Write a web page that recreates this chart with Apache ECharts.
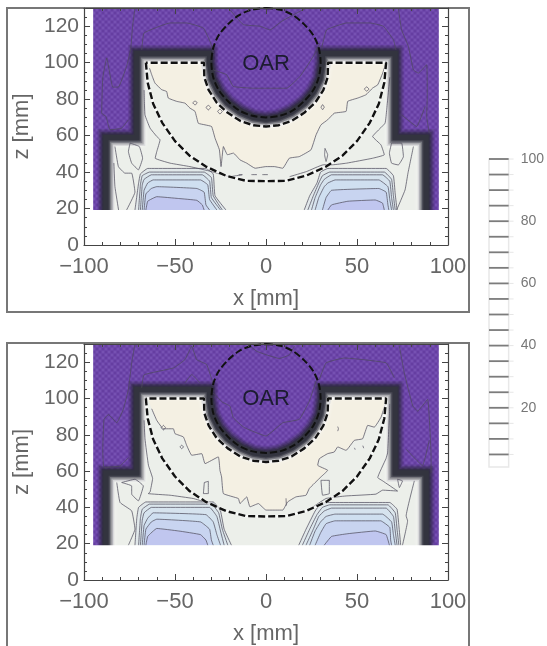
<!DOCTYPE html>
<html><head><meta charset="utf-8">
<style>html,body{margin:0;padding:0;background:#fff}#c{width:547px;height:646px;filter:blur(0.45px)}</style>
<script src="https://cdn.jsdelivr.net/npm/echarts@6/dist/echarts.min.js"></script>
</head><body><div id="c"></div>
<script>
// ---- shared geometry, [x mm, z mm]
const doseCorners = [[-95,18],[-95,130],[95,130],[95,18]];
const maskBelow = [[-100,0],[-100,19.2],[100,19.2],[100,0]];
const maskLeft = [[-100,0],[-100,130],[-95,130],[-95,0]];
const maskRight = [[95,0],[95,130],[100,130],[100,0]];
const oarCircle = [[0,130],[8,129],[15,126],[21,121],[26,115],[29,108],[30,100],[29,92],[26,85],[21,79],[15,74],[8,71],[0,70],[-8,71],[-15,74],[-21,79],[-26,85],[-29,92],[-30,100],[-29,108],[-26,115],[-21,121],[-15,126],[-8,129],[0,130]];
const ptvOutline = [[-66,100],[-65,89],[-62,77.5],[-57,67],[-50,57],[-42,49],[-33,43],[-22,38],[-11,35.2],[0,35],[11,35.2],[22,38],[33,43],[42,49],[50,57],[57,67],[62,77.5],[65,89],[66,100],[34,100],[33.9,92],[31.5,85],[27,78],[21,72.5],[14,68],[7,65.7],[0,65],[-7,65.7],[-14,68],[-21,72.5],[-27,78],[-31.5,85],[-33.9,92],[-34,100],[-66,100]];
const fieldEdge = [[-88,18],[-88,59],[-71,59],[-71,105],[-31,105],[-31,100],[-29.5,91],[-26,84],[-21,78],[-14,73],[-7,70],[0,69],[7,70],[14,73],[21,78],[26,84],[29.5,91],[31,100],[31,105],[71,105],[71,59],[88,59],[88,18]];
const creamClosure = [[66,100],[34,100],[33,90],[27,80],[15,72],[0,68],[-15,72],[-27,80],[-33,90],[-34,100],[-65,100]];

// ---- upper panel contours
const topCream = [[-64,97],[-62.8,93.4],[-61,88.8],[-57.3,85.2],[-54.6,84.2],[-53.7,80.6],[-49.1,78.8],[-44.5,77.8],[-41.8,75.1],[-39,73.3],[-37.2,66.8],[-33.5,65.9],[-29.9,65],[-28,58.6],[-25.6,52.2],[-24.7,43],[-23.4,54],[-21.2,49.5],[-17.9,50.4],[-14.3,46.7],[-10.6,44.9],[-6,42.1],[0,43],[4.6,43],[9.2,42.1],[12.8,47.6],[18.3,48.5],[24.7,52.2],[27.5,60.4],[30.2,65.9],[33.9,68.7],[37.5,72.3],[44,73.3],[44.9,78.8],[50.4,80.6],[54.9,82.4],[58.6,86.1],[61.4,87.9],[64.1,94.3],[65.6,98.9]];
const topOuterL = [[-67,85],[-66.5,71.4],[-63.7,64.1],[-60,59.5],[-58.2,57.7],[-60,51.3],[-60.9,47.6],[-52.7,44.9],[-41.8,43],[-29.9,40.3],[-20,37.5],[-13,38.5]];
const topOuterR = [[13,37.5],[22.3,40.3],[31.5,44],[36.6,44],[44.3,44.9],[58.6,47.6],[65,49.5],[63.2,54.9],[58.6,59.5],[65.4,66.8],[66.3,74.2],[68,92]];
const topBlueL = [
 [[-72,19.2],[-70,34],[-69,39],[-65,42],[-33,42],[-29,39],[-28,27],[-22,19.2]],
 [[-70,19.2],[-69,33],[-68,38],[-64,40],[-34,40],[-30,37],[-29,27],[-24,19.2]],
 [[-69,19.2],[-68,33],[-67,36],[-63,38.5],[-35,38.5],[-31,35],[-30,26],[-25,19.2]],
 [[-68,19.2],[-67,30],[-65,34],[-62,35.7],[-36,35.7],[-32,33],[-31,25],[-27,19.2]],
 [[-67,19.2],[-66,28],[-63,31],[-60,32],[-38,31],[-34,29],[-33,22],[-31,19.2]],
 [[-66,19.2],[-65,24],[-60,26.5],[-48,25.5],[-38,24.5],[-35,22],[-34,19.2]]];
const topBlueR = [
 [[21,19.2],[24,27],[28,34],[30,40],[34,42],[66,42],[70,38],[71,28],[72,19.2]],
 [[23,19.2],[26,27],[29,34],[31,38],[35,40],[65,40],[69,36],[70,27],[71,19.2]],
 [[25,19.2],[27,26],[30,33],[32,36],[36,38.5],[64,38.5],[68,35],[69,26],[70,19.2]],
 [[27,19.2],[29,26],[32,32],[34,34],[38,35.7],[62,35.7],[67,32],[68,25],[69,19.2]],
 [[31,19.2],[33,26],[36,30],[62,31],[66,29],[67,22],[67.5,19.2]],
 [[34,19.2],[36,22],[45,24],[60,24.7],[64,23],[65,19.2]]];
const topLines = [
 [[-72,130],[-73.3,120],[-74.4,107],[-76.6,98],[-81.1,86.6],[-84.2,86.6],[-87.5,102.6],[-89.7,91.6],[-90.3,72.3],[-87.9,70.5],[-85.7,63.2],[-79.3,64.1],[-75.6,68.7]],
 [[-68.3,107],[-67,116.3],[-52.7,121.8],[-43.6,121.8],[-34.4,119],[-30.4,110.8],[-28.9,105.3]],
 [[-19.8,129],[-12.5,120.9],[-3.3,120],[2.2,118],[8.6,122.7],[18.7,128.2],[22,130]],
 [[-28.9,96],[-21.6,93.4],[-18,87],[-7,86],[0.4,86],[11.4,86],[18.7,92.5],[26,103.5],[29.7,110.8]],
 [[30.6,108],[33.3,118],[44.3,121.8],[57.1,121.8],[64.5,120],[70,112.6],[71.4,107]],
 [[72.7,130],[74.5,118],[78.2,109],[81,96],[83.7,94.3],[88.3,98.9],[88.6,81.5],[88.3,70.5],[89.7,61.4]],
 [[74.5,71.4],[82.8,65],[87.4,76]],
 [[-74.7,55.9],[-69.6,54],[-67.8,47.6],[-70.1,41.2],[-73.8,44.9],[-75.6,51.3],[-74.7,55.9]],
 [[-83,54],[-81.1,43],[-77.5,39.4],[-73.8,39.4],[-72,29],[-76.6,19.2]],
 [[-81,19.2],[-83,32],[-83.6,45]],
 [[69,55.9],[74.5,55.9],[75.5,48.5],[72.7,43.9],[69,44.9],[67.8,50.4],[69,55.9]],
 [[81,54],[78,39.4],[76.4,30.2],[71.8,19.2]],
 [[-40.3,78],[-39,79],[-37.7,78],[-39,76.8],[-40.3,78]],
 [[-33,75.5],[-31.7,76.6],[-30.4,75.5],[-31.7,74],[-33,75.5]],
 [[-26.6,73.3],[-25.3,74.6],[-24,73.3],[-25.3,71.8],[-26.6,73.3]],
 [[30.2,75.6],[31.1,77],[32,75.6],[31.1,74.2],[30.2,75.6]],
 [[32.4,53],[33.9,49.5],[33,45.8],[32.2,49.5],[32.4,53]],
 [[54,85.5],[55.3,86.8],[56.6,85.5],[55.3,84.4],[54,85.5]],
 [[-15,38.6],[-13,38.6]],[[-8,38.6],[-5,38.6]],[[-2,38.6],[1,38.6]]];

// ---- lower panel contours
const botCream = [[-62.8,94.3],[-60,87.9],[-56.4,83.3],[-50.9,83.3],[-50,80.6],[-45.4,78.8],[-43.6,74.2],[-40.8,68.7],[-35.3,69.6],[-33.5,64.1],[-26.2,67.8],[-25.3,60.4],[-24.4,56.8],[-23.4,47.6],[-15.2,44.9],[-14.3,42.1],[-10.6,45.8],[-8.8,40.3],[-4.2,42.1],[0,38.5],[5.5,38.5],[9.2,38.5],[11.9,43],[16.5,45.8],[22,46.7],[23.8,50.4],[30.2,56.8],[33.9,60.4],[28.4,63.2],[29.3,66.8],[33.9,69.6],[37.5,70.5],[39.4,73.3],[44,71.4],[48.5,76.9],[53.1,77.8],[55.9,85.2],[59.5,84.2],[63.2,89.7],[65.6,97]];
const botOuterL = [[-67,88],[-66.5,77.8],[-64.6,63.2],[-62.3,55.9],[-63.7,48.5],[-64.7,47.6],[-52.7,46.7],[-40,44.9],[-33.5,43],[-28.9,41.8],[-24,39]];
const botOuterR = [[24,39],[33,44.9],[44,46.3],[60.4,47.3],[64.1,49.5],[72.3,49],[64.1,54.6],[61.4,56.4],[65.9,66.8],[66.8,70],[67.8,90.3],[68,97]];
const botBlueL = [
 [[-72,19.2],[-71,34],[-70,40],[-66,43],[-29,43],[-25,38],[-23,28],[-19,19.2]],
 [[-70,19.2],[-69,34],[-68,39],[-64,41.8],[-30,41.8],[-26,37],[-24,28],[-21,19.2]],
 [[-69,19.2],[-68,33],[-67,37],[-63,40],[-31,40],[-27,35],[-25,27],[-23,19.2]],
 [[-68,19.2],[-67,30],[-65,34],[-62,37],[-33,36],[-29,32],[-27,25],[-25,19.2]],
 [[-67,19.2],[-66,28],[-63,32],[-60,33.5],[-36,32],[-31,28],[-30,22],[-29,19.2]],
 [[-66,19.2],[-65,24],[-60,28.4],[-48,27],[-36,25],[-33,22],[-32,19.2]]];
const botBlueR = [
 [[18,19.2],[22,28],[27,38],[30,42],[34,42.7],[68,42.7],[72,39],[73,30],[74,19.2]],
 [[20,19.2],[24,28],[28,36],[31,40],[35,41.4],[67,41.4],[71,37],[72,28],[73,19.2]],
 [[22,19.2],[26,28],[29,35],[32,38],[36,39.6],[66,39.6],[70,35],[71,27],[72,19.2]],
 [[24,19.2],[27,27],[30,32],[33,35],[38,36.3],[64,36.3],[69,32],[70,25],[71,19.2]],
 [[27,19.2],[30,26],[33,31],[38,32.6],[63,32.6],[68,29],[68.5,22],[69,19.2]],
 [[32,19.2],[36,24],[45,25.5],[60,27],[66,25],[67.8,19.2]]];
const botLines = [
 [[-72,130],[-73.8,119.6],[-75.6,105],[-78.4,94],[-82,86.6],[-86.6,91.2],[-89,88.5],[-89.7,72],[-89,62],[-80.2,62.8],[-75.6,67.4]],
 [[-68.3,105.9],[-67,113],[-50.9,116.8],[-44.5,121.4],[-40.8,128.8],[-38.1,121.4],[-32.6,118.7],[-28.9,107.7]],
 [[-44.5,108.6],[-40.8,113.2],[-36.3,108.6]],
 [[-9.7,129.7],[-5.1,126],[0.4,124],[7.3,122],[12.8,124],[15.6,128.8]],
 [[-28.9,103],[-24,98],[-19.8,95.8],[-18,89.4],[-12,84],[0,79.3],[9.2,86.6],[18.3,88.5],[23.8,98.5],[27.5,109.5]],
 [[29.3,110.4],[33,119.6],[43,122.3],[66,119.6],[70.5,111.4]],
 [[73.3,128.8],[76,114],[80.6,96],[83.3,93],[88.8,99.5],[90.7,68],[90.7,59]],
 [[77,72],[86,63],[89.7,77]],
 [[-79.3,53.7],[-72,55.5],[-67.4,51.8],[-70.1,43.6],[-73.8,47.3],[-73.8,51.8],[-79.3,53.7]],
 [[-82,53.7],[-80.2,42.7],[-73.8,38.1],[-72,28],[-75.6,19.2]],
 [[-33.9,53.7],[-31.7,54.4],[-31.7,47.6],[-34.4,47.6],[-33.9,53.7]],
 [[30.2,54.9],[34.8,54.9],[34.8,47.6],[31.1,46.7],[30.2,54.9]],
 [[72.3,55.5],[75,54.6],[73.3,50.9],[72.3,55.5]],
 [[81.5,54.6],[77,35.3],[77.8,32.6],[75,19.2]],
 [[-47.3,73.3],[-46.3,74.3],[-45.3,73.3],[-46.3,72.3],[-47.3,73.3]],
 [[-57.6,83.9],[-56.4,85.2],[-55.2,83.9],[-56.4,82.6],[-57.6,83.9]],
 [[39.4,84.5],[39.8,83.3],[39.4,82]],[[48.6,72.8],[49,71.8]],[[53.2,74],[53.7,72.6]],
 [[11,45],[11.2,41]]];

// ---- colour key
const keyLevels = [100,95,90,85,80,75,70,65,60,55,50,45,40,35,30,25,20,15,10,5];
const keyTicks = [20,40,60,80,100];
const keyBox = [[0,1],[0,100],[1,100],[1,1]];

const blueFills = ['#e1e8ea','#dbe6ec','#d6e3ee','#cfdff0','#c8d4f0','#c0c6ef'];
const tick = '#444', txt = '#666', fnt = 'Liberation Sans';
const outsideField = doseCorners.concat(fieldEdge.slice().reverse());

function makeDots(){
  const c = document.createElement('canvas'); c.width = 6; c.height = 6;
  const g = c.getContext('2d');
  g.fillStyle = 'rgba(60,25,120,0.16)';
  g.fillRect(0,0,2,2); g.fillRect(3,3,2,2);
  g.fillStyle = 'rgba(190,165,235,0.12)';
  g.fillRect(3,0,2,2); g.fillRect(0,3,2,2);
  return c;
}
const dots = makeDots();

function poly(gi, pts, style, z){
  return {type:'custom', xAxisIndex:gi*2, yAxisIndex:gi*2, coordinateSystem:'cartesian2d', silent:true, clip:true, z:z,
    data:pts, encode:{x:0,y:1},
    renderItem:(p,api)=> p.dataIndex!==0 ? null : {type:'polygon', shape:{points:pts.map(q=>api.coord(q))}, style:style}};
}
function stroke(gi, pts, style, z){
  return {type:'custom', xAxisIndex:gi*2, yAxisIndex:gi*2, coordinateSystem:'cartesian2d', silent:true, clip:true, z:z,
    data:pts, encode:{x:0,y:1},
    renderItem:(p,api)=> p.dataIndex!==0 ? null : {type:'polyline', shape:{points:pts.map(q=>api.coord(q))}, style:Object.assign({fill:'none',lineJoin:'miter'},style)}};
}
function contour(gi, pts, z){
  return {type:'line', xAxisIndex:gi*2, yAxisIndex:gi*2, data:pts, showSymbol:false, silent:true, z:z, smooth:0.1,
    lineStyle:{color:'rgba(78,75,92,0.72)', width:1}};
}
function panelSeries(gi, cream, outerL, outerR, blueL, blueR, lines){
  const s = [];
  s.push(poly(gi, fieldEdge, {fill:'#ecefea'}, 2));
  s.push(poly(gi, cream.concat(creamClosure), {fill:'#f4f0e3'}, 2));
  [blueL, blueR].forEach(b=>b.forEach((c,i)=>s.push(poly(gi, c, {fill:blueFills[i]}, 2))));
  s.push(stroke(gi, fieldEdge, {stroke:'rgba(255,255,255,0.85)', lineWidth:17, shadowBlur:4, shadowColor:'rgba(255,255,255,0.8)'}, 3));
  s.push(poly(gi, outsideField, {fill:'#6d46aa'}, 3));
  s.push(poly(gi, outsideField, {fill:{image:dots, repeat:'repeat'}}, 3));
  [[17,0.14],[14,0.2],[11,0.3],[8,0.5]].forEach(h=>
    s.push(stroke(gi, fieldEdge, {stroke:'rgba(42,42,56,'+h[1]+')', lineWidth:h[0], shadowBlur:3, shadowColor:'rgba(42,42,56,'+h[1]+')'}, 3)));
  s.push(stroke(gi, fieldEdge, {stroke:'#33343f', lineWidth:5, shadowBlur:2, shadowColor:'#33343f'}, 3));
  s.push(poly(gi, maskBelow, {fill:'#fff'}, 4));
  s.push(poly(gi, maskLeft, {fill:'#fff'}, 4));
  s.push(poly(gi, maskRight, {fill:'#fff'}, 4));
  const all = [cream, outerL, outerR].concat(blueL, blueR, lines);
  all.forEach(l=>s.push(contour(gi, l, 5)));
  s.push({type:'line', xAxisIndex:gi*2, yAxisIndex:gi*2, data:oarCircle, showSymbol:false, silent:true, z:6, smooth:0.3,
    lineStyle:{color:'#111', width:2, type:[7,3]}});
  s.push({type:'line', xAxisIndex:gi*2, yAxisIndex:gi*2, data:ptvOutline, showSymbol:false, silent:true, z:6,
    lineStyle:{color:'#fff', width:3, opacity:0.6}});
  s.push({type:'line', xAxisIndex:gi*2, yAxisIndex:gi*2, data:ptvOutline, showSymbol:false, silent:true, z:6,
    lineStyle:{color:'#111', width:2.4, type:[7,3]}});
  s.push({type:'custom', xAxisIndex:gi*2, yAxisIndex:gi*2, silent:true, z:7, data:[[0,99.5]], encode:{x:0,y:1},
    renderItem:(p,api)=>{const c=api.coord([0,99.5]);return {type:'text',style:{text:'OAR',x:c[0],y:c[1],align:'center',verticalAlign:'middle',font:'22px "Liberation Sans"',fill:'#1c1c30'}};}});
  return s;
}

function xAxes(gi, name){
  const base = {type:'value', gridIndex:gi, min:-100, max:100, interval:50, splitLine:{show:false},
    axisLine:{show:true,onZero:false,lineStyle:{color:tick,width:1.2}},
    axisTick:{show:true,inside:true,length:6,lineStyle:{color:tick}},
    minorTick:{show:true,splitNumber:5,length:3,lineStyle:{color:tick}}, z:10};
  return [Object.assign({}, base, {position:'bottom', name:name, nameLocation:'middle', nameGap:43,
      nameTextStyle:{color:txt,fontSize:22,fontFamily:fnt},
      axisLabel:{color:txt,fontSize:22,fontFamily:fnt,margin:11,hideOverlap:false,showMinLabel:true,showMaxLabel:true,formatter:v=>String(v).replace('-','\u2212')}}),
    Object.assign({}, base, {position:'top', axisLabel:{show:false}})];
}
function yAxes(gi, name){
  const base = {type:'value', gridIndex:gi, min:0, max:130, interval:20, splitLine:{show:false},
    axisLine:{show:true,onZero:false,lineStyle:{color:tick,width:1.2}},
    axisTick:{show:true,inside:true,length:6,lineStyle:{color:tick}},
    minorTick:{show:true,splitNumber:4,length:3,lineStyle:{color:tick}}, z:10};
  return [Object.assign({}, base, {position:'left', name:name, nameLocation:'middle', nameGap:47, nameRotate:90,
      nameTextStyle:{color:txt,fontSize:22,fontFamily:fnt},
      axisLabel:{color:txt,fontSize:21,fontFamily:fnt,margin:5,showMinLabel:true,showMaxLabel:false}}),
    Object.assign({}, base, {position:'right', axisLabel:{show:false}})];
}

const series = [].concat(
  panelSeries(0, topCream, topOuterL, topOuterR, topBlueL, topBlueR, topLines),
  panelSeries(1, botCream, botOuterL, botOuterR, botBlueL, botBlueR, botLines));

// colour key
series.push({type:'custom', xAxisIndex:4, yAxisIndex:4, silent:true, z:2, data:keyBox, encode:{x:0,y:1},
  renderItem:(p,api)=> p.dataIndex!==0?null:{type:'polygon',shape:{points:keyBox.map(q=>api.coord(q))},style:{fill:'#fff',stroke:'#e8e8e8',lineWidth:1.5}}});
series.push({type:'custom', xAxisIndex:4, yAxisIndex:4, silent:true, z:3, data:keyLevels.map(v=>[0,v]), encode:{x:0,y:1},
  renderItem:(p,api)=>{const v=api.value(1),a=api.coord([0,v]),b=api.coord([1,v]),m=api.coord([1.25,v]);
    return {type:'group',children:[
      {type:'line',shape:{x1:b[0],y1:b[1],x2:m[0],y2:m[1]},style:{stroke:'#e6e6e6',lineWidth:1}},
      {type:'line',shape:{x1:a[0],y1:a[1],x2:b[0],y2:b[1]},style:{stroke:'#7c7c7c',lineWidth:1.8}}]};}});

const option = {
  animation:false, backgroundColor:'#fff',
  grid:[{left:84,top:8,width:364,height:237},{left:84,top:344,width:364,height:237},{left:489,top:159,width:21,height:311}],
  xAxis:[].concat(xAxes(0,'x [mm]'),xAxes(1,'x [mm]'),[{type:'value',gridIndex:2,min:0,max:1,show:false}]),
  yAxis:[].concat(yAxes(0,'z [mm]'),yAxes(1,'z [mm]'),[{type:'value',gridIndex:2,min:0,max:100,interval:20,position:'right',splitLine:{show:false},
    axisLine:{show:false},
    axisTick:{show:true,length:9,customValues:keyTicks,lineStyle:{color:'#e2e2e2'}},
    axisLabel:{color:'#777',fontSize:14,fontFamily:fnt,margin:12,customValues:keyTicks}}]),
  series:series,
  graphic:[
    {type:'rect',silent:true,z:1,shape:{x:7,y:8,width:462,height:304},style:{fill:'none',stroke:'#777',lineWidth:2}},
    {type:'polyline',silent:true,z:1,shape:{points:[[7,650],[7,343],[469,343],[469,650]]},style:{fill:'none',stroke:'#777',lineWidth:2}}
  ]
};
const chart = echarts.init(document.getElementById('c'),null,{renderer:'canvas'});
chart.setOption(option);
</script></body></html>
